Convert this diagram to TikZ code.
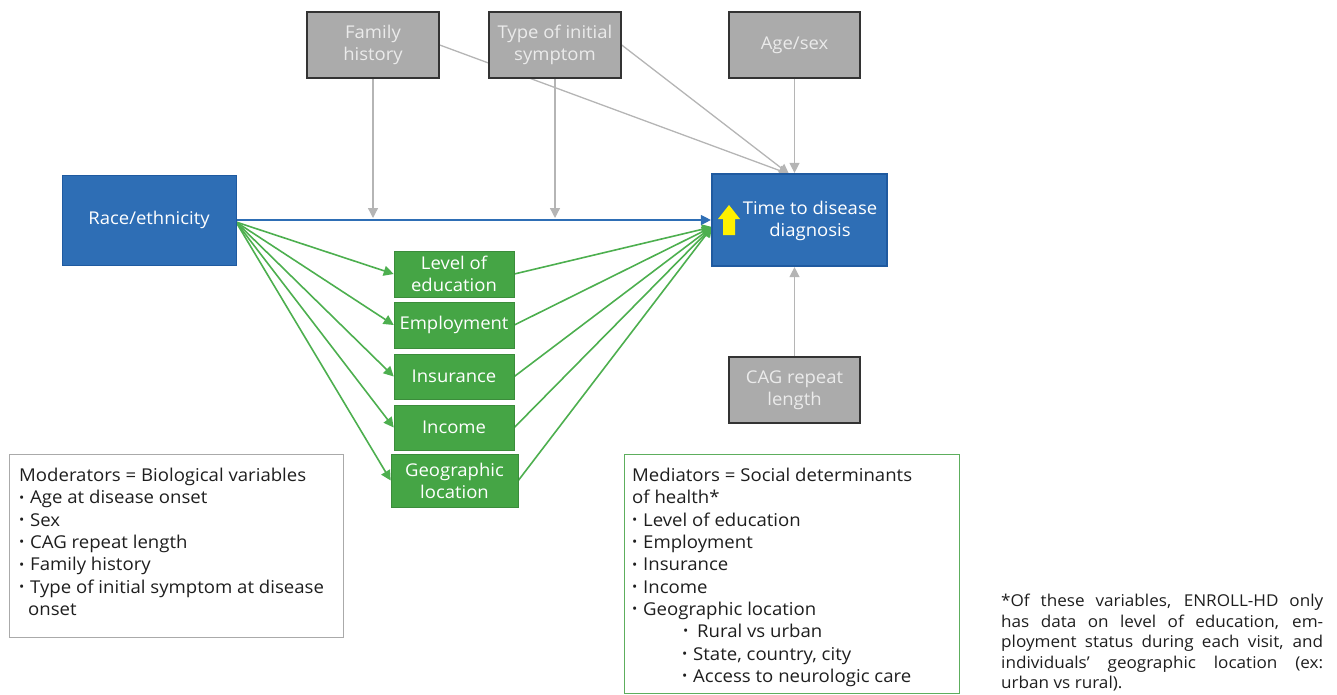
\documentclass[tikz,border=0pt]{standalone}
\usepackage{fontspec}
\setmainfont{Open Sans}[FakeStretch=1.05]
\usetikzlibrary{arrows.meta}
\definecolor{bluefill}{HTML}{2E6EB5}
\definecolor{blueedge}{HTML}{1F5AA0}
\definecolor{greenfill}{HTML}{45A545}
\definecolor{greenline}{HTML}{4DAF4F}
\definecolor{greyfill}{HTML}{ABABAB}
\definecolor{greyedge}{HTML}{333333}
\definecolor{greyline}{HTML}{B5B5B5}
\definecolor{txtdark}{HTML}{1E1E1E}
\definecolor{arrowyellow}{HTML}{FFF100}
\definecolor{modedge}{HTML}{AAAAAA}
\definecolor{mededge}{HTML}{5DAE5D}
\pgfdeclarelayer{bg}
\pgfsetlayers{bg,main}
\newcommand\bul{\makebox[11pt][l]{\raisebox{0.1em}{\scalebox{0.75}{•}}}}
\begin{document}
\begin{tikzpicture}[x=1pt,y=-1pt,
 boxfont/.style={font=\fontsize{17.6}{22}\selectfont},
 greybox/.style={draw=greyedge,line width=1.4pt,fill=greyfill,text=white!92!black,minimum width=132pt,minimum height=66pt,align=center,boxfont,inner sep=0pt},
 bluebox/.style={fill=bluefill,draw=blueedge,line width=0.8pt,text=white,align=center,boxfont,inner sep=0pt},
 greenbox/.style={fill=greenfill,draw=greenfill!85!black,line width=0.6pt,text=white,align=center,boxfont,minimum width=120pt,minimum height=46pt,inner sep=0pt},
 tip/.style={-{Triangle[length=10pt,width=10pt]}},
 greyarr/.style={tip,draw=greyline,fill=greyline,line width=1.3pt},
 greenarr/.style={tip,draw=greenline,fill=greenline,line width=1.6pt},
 bluearr/.style={tip,draw=bluefill,fill=bluefill,line width=1.3pt},
 listfont/.style={font=\fontsize{17.7}{22.3}\selectfont,text=txtdark,align=left,inner sep=0pt},
]
\useasboundingbox (0,0) rectangle (1337,695);

% grey boxes
\node[greybox] (fam) at (373,45) {Family\\history};
\node[greybox] (type) at (555,45) {Type of initial\\symptom};
\node[greybox,minimum width=131pt] (age) at (794.5,45) {Age/sex};
\node[greybox,minimum width=131pt] (cag) at (794.5,390) {CAG repeat\\length};

% blue boxes
\node[bluebox,minimum width=174pt,minimum height=90pt] (race) at (149,220) {Race/ethnicity};
\node[bluebox,line width=2.2pt,minimum width=175pt,minimum height=92pt] (time) at (799.5,220) {};
\node[boxfont,text=white,align=center,inner sep=0pt] (timetxt) at (810,221) {Time to disease\\diagnosis};
\fill[arrowyellow] (723,235) -- (723,219) -- (718,219) -- (729,205) -- (740,219) -- (735,219) -- (735,235) -- cycle;

% green boxes
\node[greenbox] (edu) at (454,274) {Level of\\education};
\node[greenbox] (emp) at (454,325) {Employment};
\node[greenbox,minimum height=45pt] (ins) at (454,376.5) {Insurance};
\node[greenbox,minimum height=45pt] (inc) at (454,427.5) {Income};
\node[greenbox,minimum width=127pt,minimum height=53pt] (geo) at (454.5,480.5) {Geographic\\location};

% legend boxes
\node[draw=modedge,line width=1.2pt,minimum width=334pt,minimum height=183pt,anchor=north west,inner sep=0pt] (mod) at (9,454) {};
\node[listfont,anchor=north west] (modtxt) at (19,468) {Moderators = Biological variables\\
\bul Age at disease onset\\
\bul Sex\\
\bul CAG repeat length\\
\bul Family history\\
\bul Type of initial symptom at disease\\
\hspace{9pt}onset};

\node[draw=mededge,line width=1.2pt,minimum width=335pt,minimum height=239pt,anchor=north west,inner sep=0pt] (med) at (624,454) {};
\node[listfont,anchor=north west] (medtxt) at (632,468) {Mediators = Social determinants\\
of health*\\
\bul Level of education\\
\bul Employment\\
\bul Insurance\\
\bul Income\\
\bul Geographic location\\
\hspace{51pt}\bul\,Rural vs urban\\
\hspace{50pt}\bul State, country, city\\
\hspace{50pt}\bul Access to neurologic care};

\node[font=\fontsize{16.3}{20.5}\selectfont,text=txtdark,align=left,inner sep=0pt,anchor=north west] (note) at (1001,594) {%
\makebox[322pt][s]{*Of these variables, ENROLL-HD only}\\
\makebox[322pt][s]{has data on level of education, em-}\\
\makebox[322pt][s]{ployment status during each visit, and}\\
\makebox[322pt][s]{individuals’ geographic location (ex:}\\
urban vs rural).};

% connectors
\begin{pgfonlayer}{bg}
\coordinate (fj) at (373,218);
\coordinate (tj) at (555,218);
\coordinate (ttop) at (789,174);
\coordinate (rs) at (236,222);
\coordinate (tg) at (712,227);
\draw[greyarr] (fam.south) -- (fj);
\draw[greyarr] (type.south) -- (tj);
\draw[greyarr] (fam.east) -- (ttop);
\draw[greyarr] (type.east) -- (ttop);
\draw[greyarr] (age.south) -- (age.south |- time.north);
\draw[greyarr] (cag.north) -- (cag.north |- time.south);
\draw[greenarr] (rs) -- (edu.west);
\draw[greenarr] (rs) -- (emp.west);
\draw[greenarr] (rs) -- (ins.west);
\draw[greenarr] (rs) -- (inc.west);
\draw[greenarr] (rs) -- (geo.west);
\draw[greenarr] (edu.east) -- (tg);
\draw[greenarr] (emp.east) -- (tg);
\draw[greenarr] (ins.east) -- (tg);
\draw[greenarr] (inc.east) -- (tg);
\draw[greenarr] (geo.east) -- (tg);
\draw[bluearr] (race.east) -- (time.west);
\end{pgfonlayer}
\end{tikzpicture}
\end{document}
